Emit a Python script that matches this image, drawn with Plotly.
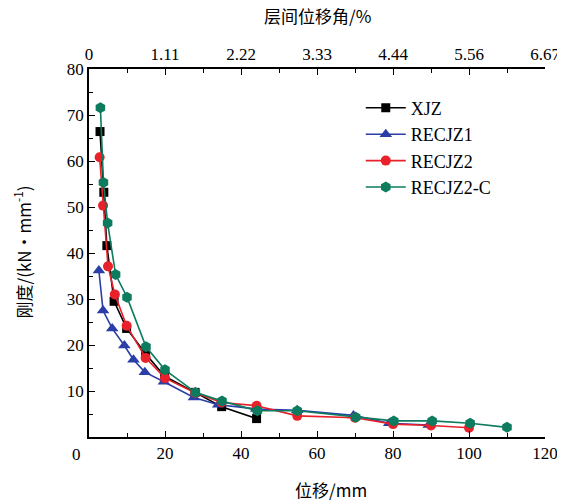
import plotly.graph_objects as go

# ---- data ----
xjz_x = [2.9, 3.9, 4.7, 6.6, 9.9, 14.9, 19.9, 27.9, 34.9, 44.1]
xjz_y = [66.4, 53.2, 41.6, 29.5, 23.6, 18.1, 13.2, 9.7, 6.6, 4.0]

r1_x = [2.6, 3.7, 6.1, 9.3, 11.7, 14.7, 19.7, 27.6, 34.0, 44.0, 54.8, 69.6, 79.0, 89.4]
r1_y = [36.2, 27.5, 23.6, 19.9, 16.8, 14.1, 12.0, 8.6, 7.0, 6.1, 5.8, 4.7, 3.0, 2.6]

r2_x = [2.8, 3.7, 5.0, 6.8, 9.9, 14.9, 20.0, 27.9, 34.9, 44.1, 54.8, 70.0, 80.0, 90.0, 100.0]
r2_y = [60.8, 50.3, 37.1, 31.0, 24.2, 17.2, 12.8, 9.6, 7.5, 6.8, 4.6, 4.2, 2.8, 2.5, 2.0]

r2c_x = [3.0, 3.8, 4.9, 7.0, 10.0, 15.0, 20.0, 28.0, 35.0, 44.3, 54.8, 70.2, 80.2, 90.3, 100.3, 110.0]
r2c_y = [71.6, 55.3, 46.5, 35.3, 30.4, 19.6, 14.6, 9.7, 7.8, 5.7, 5.7, 4.3, 3.5, 3.5, 3.0, 2.1]

bottom_ticks = [20, 40, 60, 80, 100, 120]
top_tickvals = [0, 20, 40, 60, 80, 100, 120]
top_ticktext = ["0", "1.11", "2.22", "3.33", "4.44", "5.56", "6.67"]
y_ticks = [10, 20, 30, 40, 50, 60, 70, 80]

SERIF = "Liberation Serif"
CJK = "Noto Sans CJK SC"

fig = go.Figure()

series = [
    ("XJZ", xjz_x, xjz_y, "#000000", "square", 9),
    ("RECJZ1", r1_x, r1_y, "#2B3DA6", "triangle-up", 11),
    ("RECJZ2", r2_x, r2_y, "#E8212B", "circle", 10),
    ("RECJZ2-C", r2c_x, r2c_y, "#0C7B5E", "hexagon", 11),
]
for name, xs, ys, col, sym, sz in series:
    fig.add_trace(go.Scatter(
        x=xs, y=ys, name=name, mode="lines+markers",
        line=dict(color=col, width=1.6),
        marker=dict(symbol=sym, size=sz, color=col),
    ))

# invisible trace to anchor the top axis
fig.add_trace(go.Scatter(x=[0, 120], y=[None, None], xaxis="x2", yaxis="y",
                         mode="markers", showlegend=False, hoverinfo="skip",
                         marker=dict(opacity=0)))

axis_common = dict(showline=True, linecolor="black", linewidth=1.5,
                   ticks="inside", ticklen=6, tickwidth=1.3, tickcolor="black",
                   showgrid=False, zeroline=False, automargin=False,
                   tickfont=dict(family=SERIF, size=17, color="black"))
minor_common = dict(ticks="inside", ticklen=4, tickcolor="black", tickwidth=1.2)

fig.update_layout(
    width=557, height=494,
    margin=dict(l=81, r=20, t=61, b=65, autoexpand=False),
    paper_bgcolor="white", plot_bgcolor="white",
    font=dict(family=SERIF, size=17, color="black"),
    xaxis=dict(range=[0, 120], tickvals=bottom_ticks,
               minor=dict(dtick=10, **minor_common), **axis_common),
    xaxis2=dict(range=[0, 120], overlaying="x", side="top", tickvals=top_tickvals,
                ticktext=top_ticktext,
                minor=dict(dtick=10, **minor_common), **axis_common),
    yaxis=dict(range=[0, 80], tickvals=y_ticks,
               minor=dict(dtick=5, **minor_common), **axis_common),
    legend=dict(x=0.596, y=0.944, xanchor="left", yanchor="top",
                font=dict(family=SERIF, size=18, color="black"),
                bgcolor="rgba(0,0,0,0)", itemwidth=40, tracegroupgap=0),
    showlegend=True,
)

# bottom-left "0" label (offset to the left as in the original)
fig.add_annotation(x=0, y=0, xref="x", yref="y", text="0", showarrow=False,
                   xshift=-13, yshift=-17, font=dict(family=SERIF, size=17, color="black"))
# axis titles
fig.add_annotation(x=0.53, y=-0.143, xref="paper", yref="paper", text="位移/mm",
                   showarrow=False, xanchor="center", yanchor="middle",
                   font=dict(family=CJK, size=17, color="black"))
fig.add_annotation(x=0.5, y=1.146, xref="paper", yref="paper", text="层间位移角/%",
                   showarrow=False, xanchor="center", yanchor="middle",
                   font=dict(family=CJK, size=17, color="black"))
fig.add_annotation(x=-0.147, y=0.504, xref="paper", yref="paper",
                   text="刚度/(kN·mm<sup>-1</sup>)", textangle=-90,
                   showarrow=False, xanchor="center", yanchor="middle",
                   font=dict(family=CJK, size=17, color="black"))

fig.write_html("out.html")
